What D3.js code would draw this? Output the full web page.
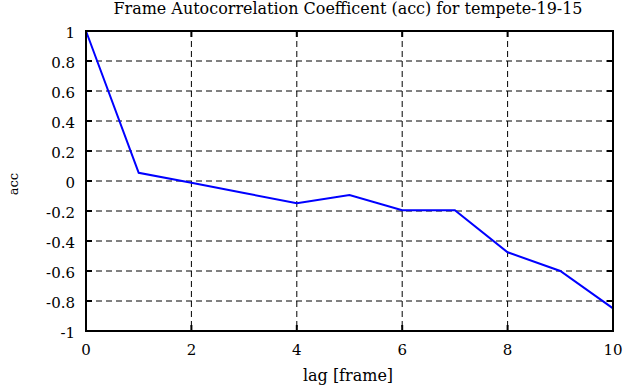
<!DOCTYPE html>
<html><head><meta charset="utf-8">
<script src="https://cdn.jsdelivr.net/npm/d3@7"></script>
<style>body{margin:0;background:#fff}svg{display:block}text{font-family:"DejaVu Serif",serif;fill:#000}</style>
</head><body><svg id="c" width="641" height="387"></svg>
<script>
const lags = [0,1,2,3,4,5,6,7,8,9,10];
const acc = [1,0.055,-0.012,-0.08,-0.149,-0.093,-0.195,-0.195,-0.475,-0.6,-0.849];
const xTicks = [0,2,4,6,8,10];
const yTicks = [-1,-0.8,-0.6,-0.4,-0.2,0,0.2,0.4,0.6,0.8,1];
const title = "Frame Autocorrelation Coefficent (acc) for tempete-19-15";
const xLabel = "lag [frame]";
const yLabel = "acc";

const svg = d3.select("#c");
const L=86,R=613,T=31,B=331;
const x = d3.scaleLinear().domain([0,10]).range([L,R]);
const y = d3.scaleLinear().domain([-1,1]).range([B,T]);

const g = svg.append("g");
g.selectAll(".gx").data(xTicks.filter(d=>d>0&&d<10)).enter().append("line")
 .attr("x1",d=>x(d)).attr("x2",d=>x(d)).attr("y1",T).attr("y2",B)
 .attr("stroke","#000").attr("stroke-width",1).attr("stroke-dasharray","6,4");
g.selectAll(".gy").data(yTicks.filter(d=>d>-1&&d<1)).enter().append("line")
 .attr("y1",d=>y(d)).attr("y2",d=>y(d)).attr("x1",L).attr("x2",R)
 .attr("stroke","#000").attr("stroke-width",1).attr("stroke-dasharray","6,4");
const tl=6;
xTicks.forEach(d=>{
  g.append("line").attr("x1",x(d)).attr("x2",x(d)).attr("y1",B).attr("y2",B-tl).attr("stroke","#000").attr("stroke-width",2);
  g.append("line").attr("x1",x(d)).attr("x2",x(d)).attr("y1",T).attr("y2",T+tl).attr("stroke","#000").attr("stroke-width",2);
});
yTicks.forEach(d=>{
  g.append("line").attr("x1",L).attr("x2",L+tl).attr("y1",y(d)).attr("y2",y(d)).attr("stroke","#000").attr("stroke-width",2);
  g.append("line").attr("x1",R).attr("x2",R-tl).attr("y1",y(d)).attr("y2",y(d)).attr("stroke","#000").attr("stroke-width",2);
});
g.append("path").datum(lags.map((l,i)=>[l,acc[i]]))
 .attr("d",d3.line().x(d=>x(d[0])).y(d=>y(d[1])))
 .attr("fill","none").attr("stroke","#0000ff").attr("stroke-width",2);
g.append("rect").attr("x",L).attr("y",T).attr("width",R-L).attr("height",B-T)
 .attr("fill","none").attr("stroke","#000").attr("stroke-width",2);
g.selectAll(".yl").data(yTicks).enter().append("text")
 .attr("x",L-11).attr("y",d=>y(d)+2).attr("dy","0.35em").attr("text-anchor","end")
 .attr("font-size",15).text(d=>String(d));
g.selectAll(".xl").data(xTicks).enter().append("text")
 .attr("x",d=>x(d)).attr("y",B+19).attr("dy","0.35em").attr("text-anchor","middle")
 .attr("font-size",15).text(d=>String(d));
svg.append("text").attr("x",348).attr("y",14).attr("text-anchor","middle").attr("font-size",16)
 .attr("textLength",469).attr("lengthAdjust","spacingAndGlyphs").text(title);
svg.append("text").attr("x",348).attr("y",375).attr("dy","0.35em").attr("text-anchor","middle").attr("font-size",16).text(xLabel);
svg.append("text").attr("transform",`translate(13,184) rotate(-90)`).attr("dy","0.35em").attr("text-anchor","middle").attr("font-size",13).text(yLabel);
</script></body></html>
